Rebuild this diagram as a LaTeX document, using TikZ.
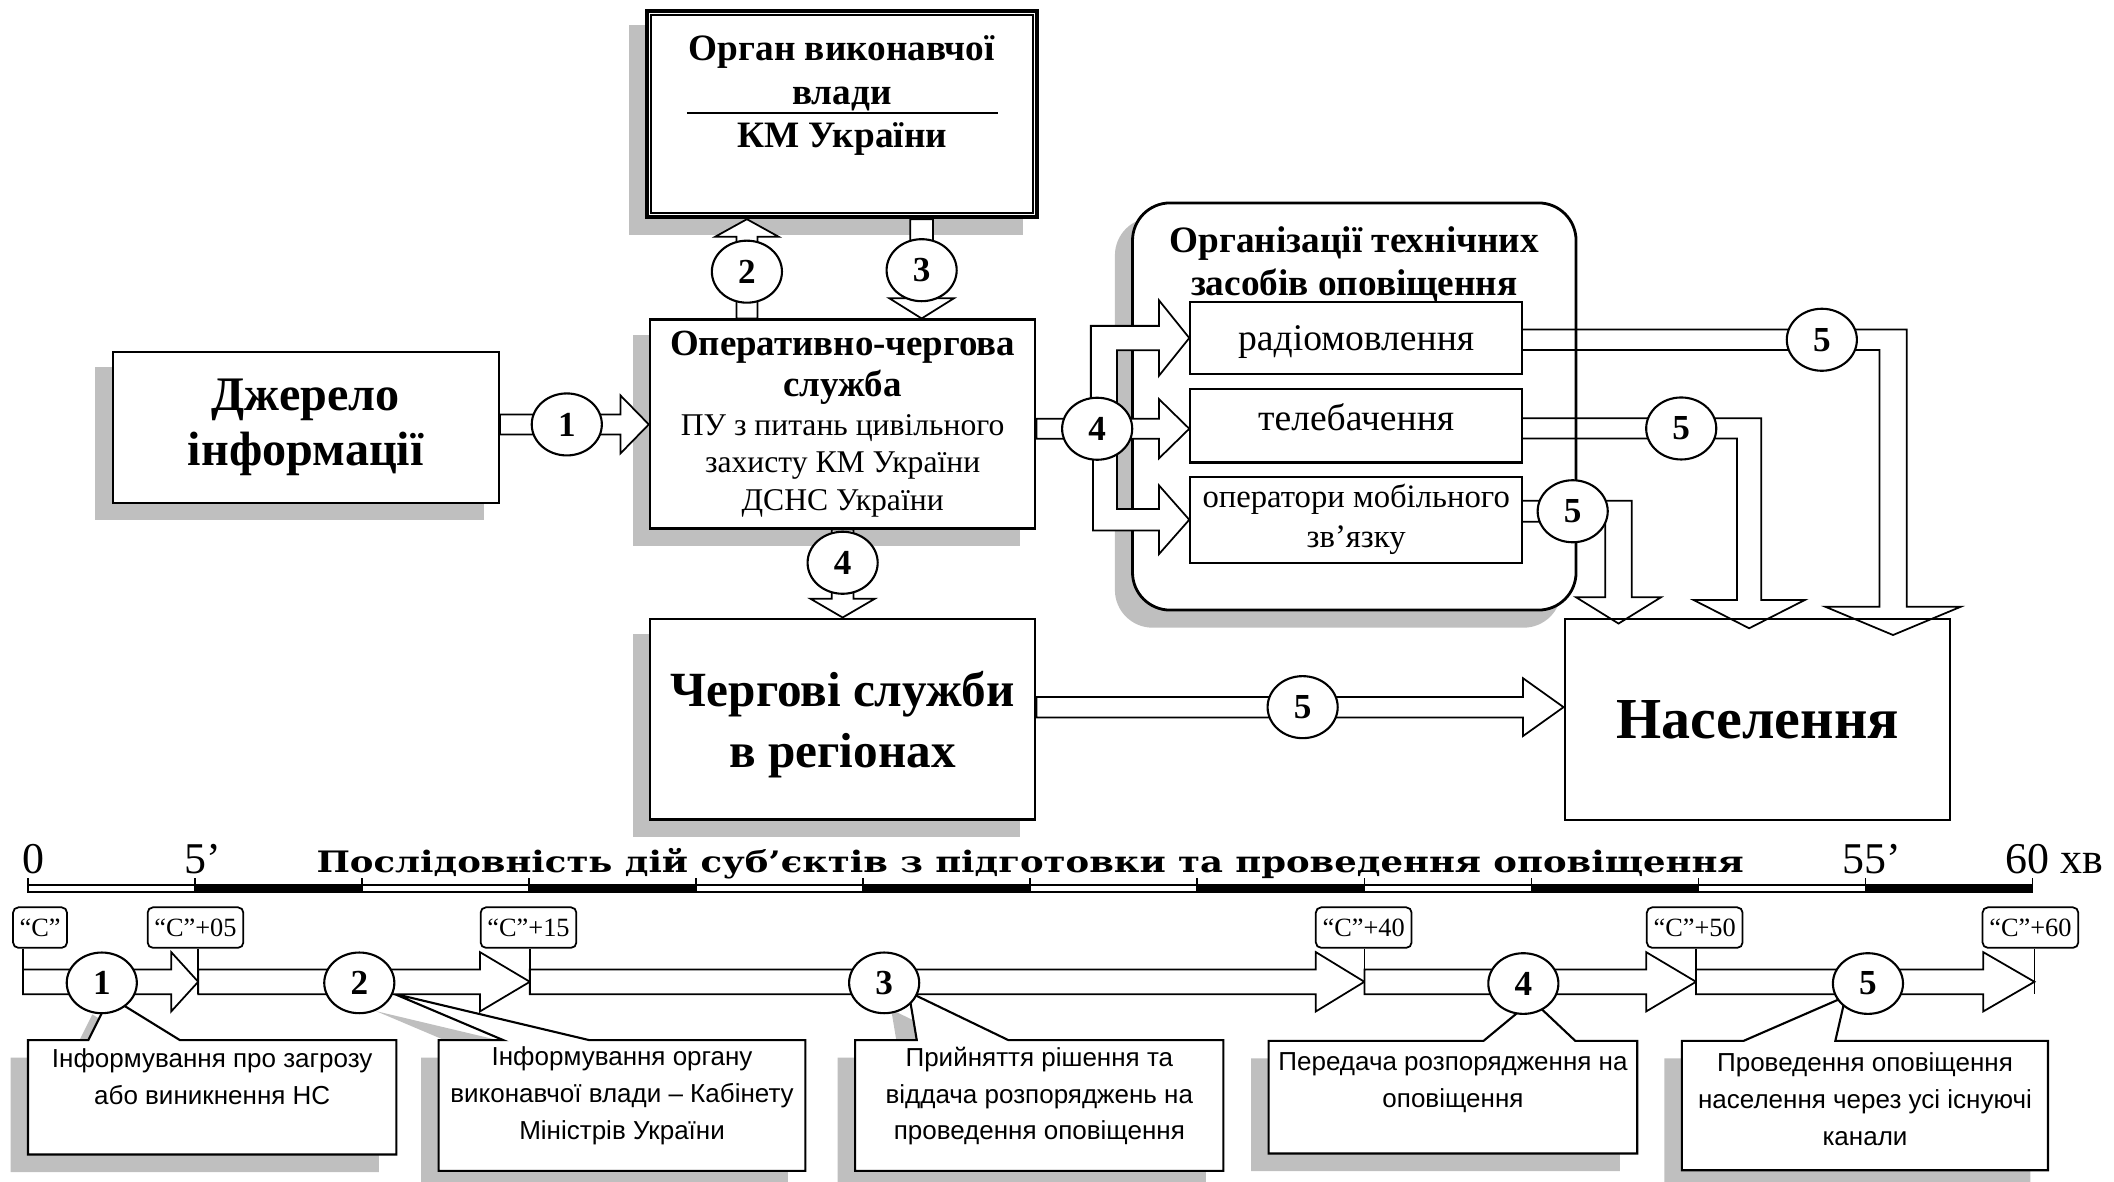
\documentclass[tikz,border=0pt]{standalone}
\usepackage{fontspec}
\setmainfont{Liberation Serif}
\newfontfamily\arialfont{Liberation Sans}
\newfontfamily\slabfont[FakeStretch=1.2]{DejaVu Serif}
\usetikzlibrary{shapes,calc}

\newcommand{\pxu}{0.1348mm}
\pgfdeclarelayer{shadow}
\pgfsetlayers{shadow,main}

\tikzstyle{format}=[rectangle,draw,line width=0.6pt,fill=white,inner sep=0pt,align=center]
\tikzstyle{txt}=[inner sep=0pt,align=center]
\tikzstyle{numb}=[ellipse,draw,line width=0.6pt,fill=white,inner sep=0pt,minimum width=52*\pxu,minimum height=46*\pxu,font=\fontsize{10}{12}\selectfont\bfseries]
\tikzstyle{stamp}=[rectangle,draw,line width=0.5pt,rounded corners=1.5pt,fill=white,inner sep=0pt,minimum height=30*\pxu,font=\fontsize{7.5}{9}\selectfont]
\tikzstyle{note}=[inner sep=0pt,align=center,font=\arialfont\fontsize{7.4}{10.5}\selectfont]
\tikzstyle{axlab}=[inner sep=0pt,font=\fontsize{12.5}{14}\selectfont]
\tikzstyle{blockarr}=[draw,line width=0.5pt,fill=white,line join=miter]
\tikzstyle{openarr}=[draw,line width=0.5pt,line join=miter]
\tikzstyle{callbox}=[draw,line width=0.6pt,fill=white,line join=miter]
\tikzstyle{shadowfill}=[fill=black!25]

% block arrows: #1 start, #2 tip, #3 half shaft, #4 half head, #5 head length
\newcommand{\rightblock}[5]{\draw[blockarr] ($#1+(0,-#3)$) -- ($#2+(-#5,-#3)$) -- ($#2+(-#5,-#4)$) -- #2 -- ($#2+(-#5,#4)$) -- ($#2+(-#5,#3)$) -- ($#1+(0,#3)$) -- cycle;}
\newcommand{\downblock}[5]{\draw[blockarr] ($#1+(-#3,0)$) -- ($#2+(-#3,-#5)$) -- ($#2+(-#4,-#5)$) -- #2 -- ($#2+(#4,-#5)$) -- ($#2+(#3,-#5)$) -- ($#1+(#3,0)$) -- cycle;}
\newcommand{\upblock}[5]{\draw[blockarr] ($#1+(-#3,0)$) -- ($#2+(-#3,#5)$) -- ($#2+(-#4,#5)$) -- #2 -- ($#2+(#4,#5)$) -- ($#2+(#3,#5)$) -- ($#1+(#3,0)$) -- cycle;}
% box, circle, head point, half shaft (y), half shaft (x), half head, head length
\newcommand{\bendblock}[7]{\draw[openarr] ($(#1.east |- #2)+(0,-#4)$) -| ($(#3)+(#5,0)$) -- ($(#3)+(#6,0)$) -- ($(#3)+(0,#7)$) -- ($(#3)+(-#6,0)$) -- ($(#3)+(-#5,0)$) |- ($(#1.east |- #2)+(0,#4)$);}
% callout: top left, bottom right, pointer from, pointer to, apex
\newcommand{\calloutbox}[5]{%
  \begin{pgfonlayer}{shadow}
  \begin{scope}[transform canvas={xshift=-13*\pxu,yshift=-13*\pxu}]
  \fill[shadowfill] (#1) -- ($(#1)+(#3,0)$) -- (#5) -- ($(#1)+(#4,0)$) -- (#1 -| #2) -- (#2) -- (#1 |- #2) -- cycle;
  \end{scope}
  \end{pgfonlayer}
  \draw[callbox] (#1) -- ($(#1)+(#3,0)$) -- (#5) -- ($(#1)+(#4,0)$) -- (#1 -| #2) -- (#2) -- (#1 |- #2) -- cycle;}

\begin{document}
\begin{tikzpicture}[x=\pxu,y=-\pxu]
\useasboundingbox (0,0) rectangle (1568,876);

% boxes of the scheme
\node[format,line width=1.2pt,minimum width=289*\pxu,minimum height=153*\pxu] (organ) at (624.5,84.5) {};
\node[format,minimum width=286.4*\pxu,minimum height=112*\pxu,font=\fontsize{13.7}{15.6}\selectfont\bfseries] (dzh) at (226.8,317) {Джерело\\інформації};
\node[format,minimum width=286*\pxu,minimum height=155*\pxu] (och) at (625,314.5) {};
\node[format,minimum width=286*\pxu,minimum height=149*\pxu] (cherg) at (625,533.3) {};
\node[format,minimum width=286*\pxu,minimum height=149*\pxu,font=\fontsize{16.5}{19}\selectfont\bfseries] (nas) at (1303.5,533.9) {Населення};
\node[format,line width=0.8pt,rounded corners=10.7pt,minimum width=329*\pxu,minimum height=302*\pxu] (org) at (1004.5,301.5) {};
\node[format,minimum width=246*\pxu,minimum height=53.7*\pxu] (radio) at (1005.9,250.7) {};
\node[format,minimum width=246*\pxu,minimum height=54.4*\pxu] (tv) at (1005.9,315.8) {};
\node[format,minimum width=246*\pxu,minimum height=63.8*\pxu,font=\fontsize{9.3}{11.4}\selectfont] (mob) at (1005.9,385.5) {оператори мобільного\\зв’язку};

\node[txt,font=\fontsize{10.6}{12.4}\selectfont\bfseries] (organt) at (624.5,71) {Орган виконавчої\\влади\\КМ України};
\node[txt,font=\fontsize{10.5}{11.8}\selectfont\bfseries] (ochta) at (625,272.6) {Оперативно-чергова\\служба};
\node[txt,font=\fontsize{9}{10.7}\selectfont] (ochtb) at (625,345.5) {ПУ з питань цивільного\\захисту КМ України\\ДСНС України};
\node[txt,font=\fontsize{14}{17.3}\selectfont\bfseries] (chergt) at (625,537.5) {Чергові служби\\в регіонах};
\node[txt,font=\fontsize{10.6}{12.1}\selectfont\bfseries] (orgt) at (1004.5,196.2) {Організації технічних\\засобів оповіщення};
\node[txt,font=\fontsize{10.7}{12.5}\selectfont] (radiot) at (1005.9,253.5) {радіомовлення};
\node[txt,font=\fontsize{10.7}{12.5}\selectfont] (tvt) at (1005.9,309.6) {телебачення};

\begin{pgfonlayer}{shadow}
\begin{scope}[transform canvas={xshift=-12*\pxu,yshift=-12*\pxu}]
\foreach \b in {organ,dzh,och,cherg}
  \fill[shadowfill] (\b.north west) rectangle (\b.south east);
\fill[shadowfill,rounded corners=10.7pt] (org.north west) rectangle (org.south east);
\end{scope}
\end{pgfonlayer}

\draw[line width=0.5pt] ($(organ.north west)+(4.5,4.5)$) rectangle ($(organ.south east)+(-4.5,-4.5)$);
\draw[line width=0.6pt] ($(organ.north west)+(31,77.5)$) -- ($(organ.north east)+(-30,77.5)$);

% arrows between the boxes
\coordinate (p1) at (420.4,314.8);
\coordinate (p2) at (554,201.5);
\coordinate (p3) at (683.6,200.4);
\coordinate (p4d) at (625,417.4);
\coordinate (p4r) at (813.8,318);
\coordinate (p5a) at (1351.3,252);
\coordinate (p5b) at (1247,317.8);
\coordinate (p5c) at (1166.5,379.2);
\coordinate (p5d) at (966.2,524.5);
\coordinate (h5a) at (1404.1,450);
\coordinate (h5b) at (1297.4,445);
\coordinate (h5c) at (1200.5,443);

\rightblock{(dzh.east |- p1)}{(och.west |- p1)}{7.4}{21.5}{21}
\upblock{(och.north -| p2)}{(organ.south -| p2)}{7.8}{23.5}{13}
\downblock{(organ.south -| p3)}{(och.north -| p3)}{8.5}{24}{15}
\downblock{(och.south -| p4d)}{(cherg.north -| p4d)}{8}{24}{14}
\rightblock{(cherg.east |- p5d)}{(nas.west |- p5d)}{7.6}{21.4}{30}

\draw[blockarr] ($(och.east |- p4r)+(0,-7.5)$) -| ($(radio.west)+(-73,-9)$) -- ($(radio.west)+(-22.5,-9)$) -- ($(radio.west)+(-22.5,-28)$) -- (radio.west) -- ($(radio.west)+(-22.5,28)$) -- ($(radio.west)+(-22.5,9)$)
  -| ($(tv.west |- p4r)+(-53.7,-7.5)$) -- ($(tv.west |- p4r)+(-22.5,-7.5)$) -- ($(tv.west |- p4r)+(-22.5,-22)$) -- (tv.west |- p4r) -- ($(tv.west |- p4r)+(-22.5,22)$) -- ($(tv.west |- p4r)+(-22.5,7.5)$)
  -| ($(mob.west)+(-53.7,-8)$) -- ($(mob.west)+(-22.5,-8)$) -- ($(mob.west)+(-22.5,-25.5)$) -- (mob.west) -- ($(mob.west)+(-22.5,25.5)$) -- ($(mob.west)+(-22.5,8)$)
  -| ($(och.east |- p4r)+(42,7.5)$) -- ($(och.east |- p4r)+(0,7.5)$) -- cycle;

\bendblock{radio}{p5a}{h5a}{7.6}{10.1}{50.3}{21}
\bendblock{tv}{p5b}{h5b}{7.5}{9}{41.3}{21}
\bendblock{mob}{p5c}{h5c}{7.8}{9.8}{31.5}{19.5}

\node[numb] (s1) at (p1) {1};
\node[numb] (s2) at (p2) {2};
\node[numb] (s3) at (p3) {3};
\node[numb] (s4d) at (p4d) {4};
\node[numb] (s4r) at (p4r) {4};
\node[numb] (s5a) at (p5a) {5};
\node[numb] (s5b) at (p5b) {5};
\node[numb] (s5c) at (p5c) {5};
\node[numb] (s5d) at (p5d) {5};

% time scale
\foreach \i in {0,2,...,10}
  \draw[line width=0.5pt,fill=white] ({20.8+123.9*\i},656.5) rectangle ({20.8+123.9*(\i+1)},661.7);
\foreach \i in {1,3,...,11}
  \draw[line width=0.5pt,fill=black] ({20.8+123.9*\i},656.5) rectangle ({20.8+123.9*(\i+1)},661.7);
\foreach \i in {0,...,12}
  \draw[line width=0.5pt] ({20.8+123.9*\i},651.5) -- ({20.8+123.9*\i},656.5);

\node[axlab,anchor=base] (l0) at (24.7,648) {0};
\node[axlab,anchor=base west] (l5) at (136,648) {5’};
\node[axlab,anchor=base west] (l55) at (1366,648) {55’};
\node[axlab,anchor=base west] (l60) at (1487,648) {60 хв};
\node[inner sep=0pt,anchor=base,font=\slabfont\bfseries\fontsize{8.4}{9.5}\selectfont] (title) at (764,647) {Послідовність дій суб’єктів з підготовки та проведення оповіщення};

% callouts
\coordinate (q1a) at (20.8,771.5);   \coordinate (q1b) at (294,856.3);    \coordinate (a1) at (81.5,739.4);
\coordinate (q2a) at (325.3,771.5);  \coordinate (q2b) at (597.4,868.5);  \coordinate (a2) at (292,737);
\coordinate (q3a) at (634.3,771.5);  \coordinate (q3b) at (907.4,868.5);  \coordinate (a3) at (674,735.8);
\coordinate (q4a) at (941,772);      \coordinate (q4b) at (1214.4,855.6); \coordinate (a4) at (1136.6,742);
\coordinate (q5a) at (1247.5,772);   \coordinate (q5b) at (1519,868);     \coordinate (a5) at (1368.9,739.1);
\calloutbox{q1a}{q1b}{44.7}{112.7}{a1}
\calloutbox{q2a}{q2b}{48.1}{111.9}{a2}
\calloutbox{q3a}{q3b}{45.7}{113.7}{a3}
\calloutbox{q4a}{q4b}{159.4}{227.4}{a4}
\calloutbox{q5a}{q5b}{45.8}{113.8}{a5}

% time line
\coordinate (k0) at (17,728.2);
\coordinate (k1) at (147,728.2);
\coordinate (k2) at (393,728.2);
\coordinate (k3) at (1012,728.2);
\coordinate (k4) at (1258,728.2);
\coordinate (k5) at (1509,728.2);
\rightblock{(k0)}{(k1)}{9.2}{22}{20}
\rightblock{(k1)}{(k2)}{9.2}{22}{37}
\rightblock{(k2)}{(k3)}{9.2}{22}{36}
\rightblock{(k3)}{(k4)}{9.2}{22}{37}
\rightblock{(k4)}{(k5)}{9.2}{22}{38}

\node[stamp,minimum width=40*\pxu] (t0) at (29.7,688) {“С”};
\node[stamp,minimum width=71*\pxu] (t1) at (145,688) {“С”+05};
\node[stamp,minimum width=71*\pxu] (t2) at (392,688) {“С”+15};
\node[stamp,minimum width=71*\pxu] (t3) at (1011.5,688) {“С”+40};
\node[stamp,minimum width=71*\pxu] (t4) at (1257,688) {“С”+50};
\node[stamp,minimum width=71*\pxu] (t5) at (1506,688) {“С”+60};
\foreach \n/\k in {t0/k0,t1/k1,t2/k2,t3/k3,t4/k4,t5/k5}
  \draw[line width=0.5pt] (\n.south -| \k) -- ($(\k)+(0,9.2)$);

\node[numb,minimum height=45*\pxu] (m1) at (75.5,729) {1};
\node[numb,minimum height=45*\pxu] (m2) at (266.5,729) {2};
\node[numb,minimum height=45*\pxu] (m3) at (655.8,729) {3};
\node[numb,minimum height=45*\pxu] (m4) at (1129.9,729.5) {4};
\node[numb,minimum height=45*\pxu] (m5) at (1385.5,729.5) {5};

\node[note] (d1) at (157.4,798.5) {Інформування про загрозу\\або виникнення НС};
\node[note] (d2) at (461.4,812.5) {Інформування органу\\виконавчої влади – Кабінету\\Міністрів України};
\node[note] (d3) at (770.9,813) {Прийняття рішення та\\віддача розпоряджень на\\проведення оповіщення};
\node[note] (d4) at (1077.7,802.8) {Передача розпорядження на\\оповіщення};
\node[note] (d5) at (1383.3,815) {Проведення оповіщення\\населення через усі існуючі\\канали};
\end{tikzpicture}
\end{document}
